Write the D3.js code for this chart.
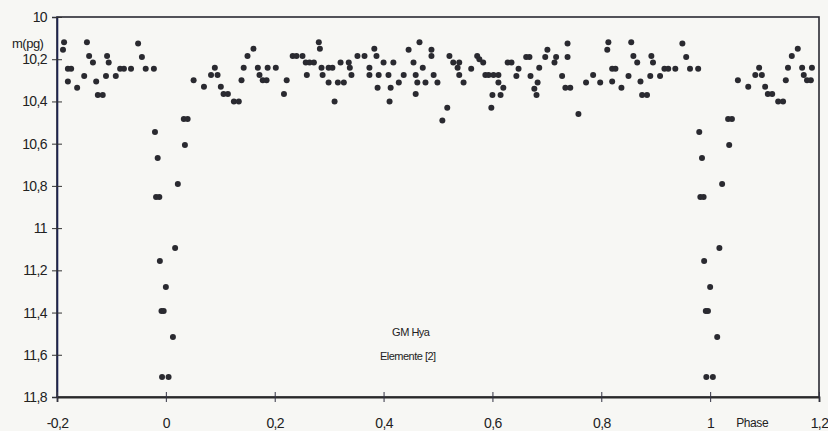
<!DOCTYPE html>
<html><head><meta charset="utf-8">
<script src="https://cdn.jsdelivr.net/npm/d3@7"></script>
<style>
html,body{margin:0;padding:0;background:#f7f7f4;}
svg{display:block;}
text{font-family:"Liberation Sans Narrow","Liberation Sans",Arial,sans-serif;fill:#222;}
</style></head>
<body>
<script>
// ---- data (phase, magnitude m(pg)) ----
const phases = [
0.980,0.985,0.982,0.988,0.989,0.992,0.996,0.993,0.005,0.000,0.013,0.017,0.022,0.035,0.033,0.040,
0.051,0.070,0.083,0.090,0.095,0.101,0.106,0.114,0.125,0.134,0.139,0.143,0.150,0.161,0.169,0.172,
0.178,0.185,0.187,0.202,0.217,0.222,0.233,0.240,0.251,0.257,0.264,0.272,0.259,0.281,0.283,0.286,
0.288,0.299,0.306,0.299,0.316,0.327,0.321,0.336,0.338,0.341,0.310,0.352,0.365,0.383,0.387,0.374,
0.374,0.400,0.418,0.391,0.409,0.389,0.413,0.411,0.428,0.437,0.446,0.455,0.466,0.472,0.459,0.462,
0.477,0.459,0.488,0.488,0.492,0.499,0.508,0.517,0.521,0.528,0.539,0.536,0.539,0.547,0.561,0.572,
0.576,0.583,0.587,0.593,0.602,0.611,0.611,0.620,0.600,0.615,0.598,0.628,0.635,0.648,0.644,0.662,
0.668,0.670,0.686,0.683,0.677,0.681,0.701,0.697,0.717,0.714,0.728,0.738,0.738,0.734,0.743,0.758,
0.772,0.785,0.798,0.813,0.811,0.820,0.826,0.820,0.837,0.850,0.855,0.859,0.866,0.872,0.875,0.884,
0.890,0.892,0.895,0.908,0.916,0.923,0.936,0.949,0.956,0.963,0.978
];
const mags = [
10.545,10.668,10.853,10.853,11.156,11.393,11.393,11.705,11.705,11.279,11.516,11.094,10.791,10.606,10.483,10.483,
10.30,10.33,10.275,10.24,10.275,10.33,10.365,10.365,10.40,10.40,10.30,10.24,10.185,10.15,10.24,10.275,
10.30,10.30,10.24,10.24,10.365,10.30,10.185,10.185,10.185,10.215,10.215,10.215,10.275,10.12,10.15,10.24,
10.275,10.24,10.24,10.31,10.31,10.31,10.215,10.215,10.24,10.275,10.40,10.185,10.185,10.15,10.185,10.24,
10.275,10.215,10.215,10.275,10.275,10.335,10.335,10.40,10.31,10.275,10.155,10.215,10.12,10.24,10.275,10.31,
10.31,10.365,10.155,10.185,10.275,10.31,10.49,10.43,10.185,10.215,10.215,10.24,10.275,10.31,10.245,10.185,
10.20,10.215,10.275,10.275,10.275,10.275,10.31,10.335,10.37,10.37,10.43,10.215,10.215,10.245,10.28,10.19,
10.19,10.28,10.24,10.31,10.34,10.37,10.155,10.19,10.19,10.215,10.28,10.125,10.19,10.335,10.335,10.46,
10.31,10.275,10.31,10.12,10.155,10.245,10.245,10.305,10.335,10.28,10.12,10.185,10.215,10.305,10.37,10.37,
10.28,10.185,10.215,10.28,10.245,10.245,10.245,10.125,10.19,10.245,10.245
];
// the phase diagram repeats each observation one period earlier / later
const cycleShifts = [-1, 0, 1];
const xTicks = [-0.2, 0, 0.2, 0.4, 0.6, 0.8, 1, 1.2];
const yTicks = [10, 10.2, 10.4, 10.6, 10.8, 11, 11.2, 11.4, 11.6, 11.8];
const xTitle = "Phase";
const yTitle = "m(pg)";
const noteLines = ["GM Hya", "Elemente [2]"];

const W = 828, H = 431;
const m = {left: 57, right: 9, top: 17, bottom: 34};
const svg = d3.select("body").append("svg").attr("width", W).attr("height", H);
svg.append("rect").attr("width", W).attr("height", H).attr("fill", "#f7f7f4");

const x = d3.scaleLinear().domain([-0.2, 1.2]).range([m.left, W - m.right]);
const y = d3.scaleLinear().domain([10, 11.8]).range([m.top, H - m.bottom]);
const fmt = d => String(+d.toFixed(1)).replace(".", ",");
const FONT = '"Liberation Sans Narrow","Liberation Sans",Arial,sans-serif';

// frame
svg.append("rect").attr("x", x(-0.2)).attr("y", y(10))
  .attr("width", x(1.2) - x(-0.2)).attr("height", y(11.8) - y(10))
  .attr("fill", "none").attr("stroke", "#2a2a33").attr("stroke-width", 1.6);

// y axis
const gy = svg.append("g").attr("transform", `translate(${x(-0.2)},0)`)
  .call(d3.axisLeft(y).tickValues(yTicks).tickFormat(fmt).tickSize(5).tickPadding(5));
gy.select(".domain").attr("stroke", "#1d2450").attr("stroke-width", 1.6);
gy.selectAll(".tick line").attr("x1", 5).attr("stroke", "#333");
gy.selectAll(".tick text").attr("font-size", 14).attr("fill", "#1e1e1e")
  .attr("font-family", FONT).attr("letter-spacing", -0.6);

// x axis
const gx = svg.append("g").attr("transform", `translate(0,${y(11.8)})`)
  .call(d3.axisBottom(x).tickValues(xTicks).tickFormat(fmt).tickSize(5).tickPadding(16));
gx.select(".domain").attr("stroke", "#2a2a2a").attr("stroke-width", 1.8);
gx.selectAll(".tick line").attr("y1", -5).attr("stroke", "#334");
gx.selectAll(".tick text").attr("font-size", 14).attr("fill", "#1e1e1e")
  .attr("font-family", FONT).attr("letter-spacing", -0.6);

// titles
svg.append("text").attr("x", 12).attr("y", 48).attr("font-size", 13)
  .attr("letter-spacing", -0.5).text(yTitle);
svg.append("text").attr("x", x(1) + 26).attr("y", 427).attr("font-size", 12)
  .attr("letter-spacing", -0.4).text(xTitle);
svg.selectAll("text.note").data(noteLines).join("text").attr("class", "note")
  .attr("x", (d, i) => x(0.45) + (i ? -3 : 0))
  .attr("y", (d, i) => y(11.51) + i * 24)
  .attr("text-anchor", "middle").attr("font-size", 11).attr("letter-spacing", -0.5)
  .text(d => d);

// points
const pts = [];
phases.forEach((p, i) => cycleShifts.forEach(s => {
  const ph = p + s;
  if (ph > -0.197 && ph < 1.197) pts.push({ph, mag: mags[i]});
}));
svg.append("g").selectAll("circle").data(pts).join("circle")
  .attr("cx", d => x(d.ph)).attr("cy", d => y(d.mag)).attr("r", 3)
  .attr("fill", "#2a2a30");
</script>
</body></html>
